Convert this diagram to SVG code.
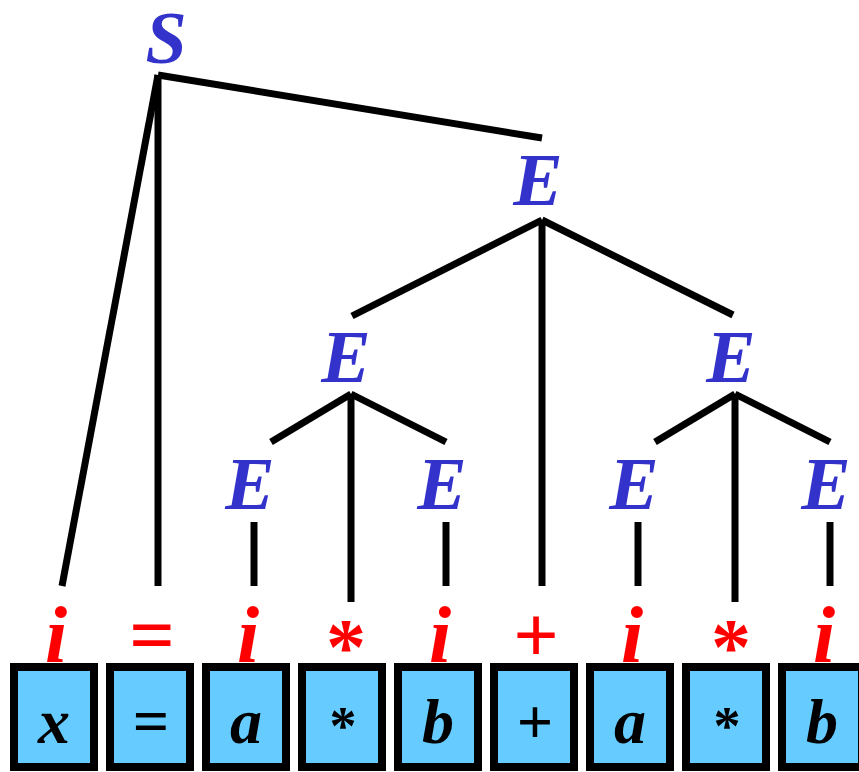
<svg xmlns="http://www.w3.org/2000/svg" width="859" height="772" viewBox="0 0 859 772">
<style>
.nt{font-family:"Liberation Serif","Times New Roman",serif;font-weight:bold;font-style:italic;font-size:74px;fill:#3333CC;text-anchor:middle}
.tk{font-family:"Liberation Serif","Times New Roman",serif;font-weight:bold;font-style:italic;font-size:80px;fill:#FF0000;text-anchor:middle}
.tkr{font-family:"Liberation Serif","Times New Roman",serif;font-weight:bold;font-size:80px;fill:#FF0000;text-anchor:middle}
.bx{fill:#66CCFF;stroke:#000;stroke-width:8}
.bt{font-family:"Liberation Serif","Times New Roman",serif;font-weight:bold;font-style:italic;font-size:64px;fill:#000;text-anchor:middle}
.btr{font-family:"Liberation Serif","Times New Roman",serif;font-weight:bold;font-size:64px;fill:#000;text-anchor:middle}
.ln{stroke:#000;stroke-width:7;fill:none;stroke-linecap:butt}
</style>
<rect width="859" height="772" fill="#fff"/>
<g id="connectors">
<line class="ln" x1="158" y1="75" x2="542" y2="138"/>
<line class="ln" x1="158" y1="75" x2="62" y2="586"/>
<line class="ln" x1="158" y1="75" x2="158" y2="586"/>
<line class="ln" x1="542" y1="220" x2="352" y2="316"/>
<line class="ln" x1="542" y1="220" x2="733" y2="315"/>
<line class="ln" x1="542" y1="220" x2="542" y2="586"/>
<line class="ln" x1="351" y1="394" x2="271" y2="442"/>
<line class="ln" x1="351" y1="394" x2="446" y2="442"/>
<line class="ln" x1="351" y1="394" x2="351" y2="602"/>
<line class="ln" x1="735" y1="394" x2="655" y2="442"/>
<line class="ln" x1="735" y1="394" x2="830" y2="442"/>
<line class="ln" x1="735" y1="394" x2="735" y2="602"/>
<line class="ln" x1="254" y1="522" x2="254" y2="586"/>
<line class="ln" x1="446" y1="522" x2="446" y2="586"/>
<line class="ln" x1="638" y1="522" x2="638" y2="586"/>
<line class="ln" x1="830" y1="522" x2="830" y2="586"/>
</g>
<g id="S"><text class="nt" x="166" y="63">S</text></g>
<g id="E1"><text class="nt" x="538" y="205">E</text></g>
<g id="E2"><text class="nt" x="346" y="382">E</text></g>
<g id="E3"><text class="nt" x="731" y="382">E</text></g>
<g id="E4"><text class="nt" x="250" y="509">E</text></g>
<g id="E5"><text class="nt" x="442" y="509">E</text></g>
<g id="E6"><text class="nt" x="634" y="509">E</text></g>
<g id="E7"><text class="nt" x="826" y="509">E</text></g>
<g id="t1"><text class="tk" x="56" y="662">i</text></g>
<g id="t2"><text class="tkr" x="152" y="662">=</text></g>
<g id="t3"><text class="tk" x="248" y="662">i</text></g>
<g id="t4"><text class="tkr" x="346" y="674">*</text></g>
<g id="t5"><text class="tk" x="440" y="662">i</text></g>
<g id="t6"><text class="tkr" x="536" y="662">+</text></g>
<g id="t7"><text class="tk" x="632" y="662">i</text></g>
<g id="t8"><text class="tkr" x="731" y="674">*</text></g>
<g id="t9"><text class="tk" x="824" y="662">i</text></g>
<g id="b1"><rect class="bx" x="14" y="667" width="80" height="100"/><text class="bt" x="54" y="743">x</text></g>
<g id="b2"><rect class="bx" x="110" y="667" width="80" height="100"/><text class="btr" x="151" y="743">=</text></g>
<g id="b3"><rect class="bx" x="206" y="667" width="80" height="100"/><text class="bt" x="246" y="743">a</text></g>
<g id="b4"><rect class="bx" x="302" y="667" width="80" height="100"/><text class="btr" x="343" y="744" style="font-size:54px">*</text></g>
<g id="b5"><rect class="bx" x="398" y="667" width="80" height="100"/><text class="bt" x="438" y="743">b</text></g>
<g id="b6"><rect class="bx" x="494" y="667" width="80" height="100"/><text class="btr" x="535" y="743">+</text></g>
<g id="b7"><rect class="bx" x="590" y="667" width="80" height="100"/><text class="bt" x="630" y="743">a</text></g>
<g id="b8"><rect class="bx" x="686" y="667" width="80" height="100"/><text class="btr" x="727" y="744" style="font-size:54px">*</text></g>
<g id="b9"><rect class="bx" x="782" y="667" width="80" height="100"/><text class="bt" x="822" y="743">b</text></g>
</svg>
